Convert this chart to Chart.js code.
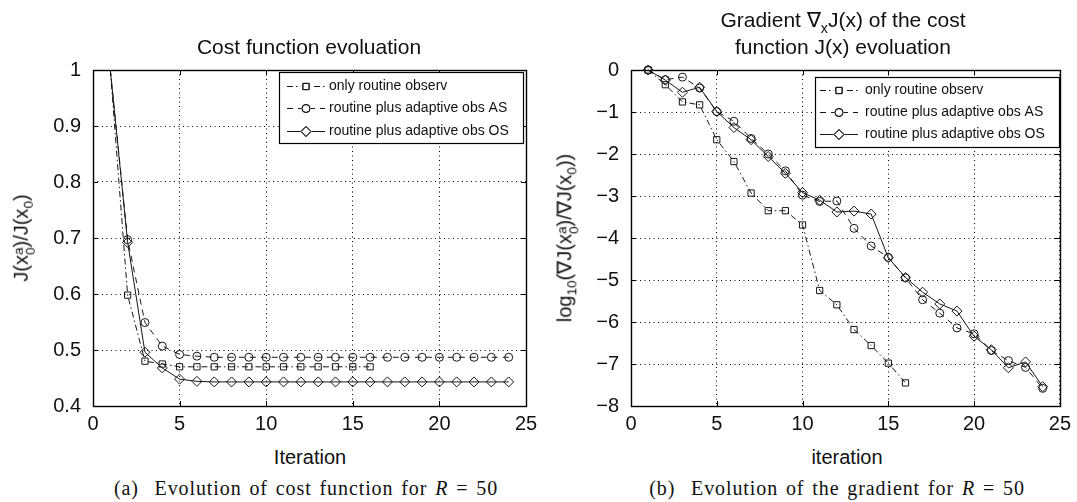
<!DOCTYPE html>
<html>
<head>
<meta charset="utf-8">
<title>Cost function and gradient evolution</title>
<script src="https://cdn.jsdelivr.net/npm/chart.js@4"></script>
<style>
  body { margin: 0; background: #fff; width: 1077px; height: 502px; position: relative; overflow: hidden;
         font-family: "Liberation Sans", Arial, sans-serif; color: #111; }
  canvas { position: absolute; top: 0; }
  .lbl { position: absolute; white-space: nowrap; transform: translate(-50%, -50%); }
  .ylbl { transform: translate(-50%, -50%) rotate(-90deg); }
  .ttl { font-size: 21px; }
  .ax { font-size: 20px; }
  .cap { font-family: "Liberation Serif", "DejaVu Serif", serif; font-size: 20px; letter-spacing: 0.9px; word-spacing: 2px; }
  .ss { display: inline-flex; flex-direction: column; font-size: 0.68em; line-height: 0.95; vertical-align: 0.4em; }
  sub { font-size: 0.68em; }
</style>
</head>
<body>
<canvas id="costChart" width="545" height="440" style="left:0"></canvas>
<canvas id="gradChart" width="532" height="440" style="left:545px"></canvas>

<div class="lbl ttl" style="left:309px; top:47px">Cost function evoluation</div>
<div class="lbl ttl" style="left:843px; top:22px">Gradient ∇<sub>x</sub>J(x) of the cost</div>
<div class="lbl ttl" style="left:843px; top:47px">function J(x) evoluation</div>

<div class="lbl ax ylbl" style="left:24px; top:238px">J(x<span class="ss"><span>a</span><span>0</span></span>)/J(x<sub>0</sub>)</div>
<div class="lbl ax ylbl" style="left:567px; top:238px">log<sub>10</sub>(∇J(x<span class="ss"><span>a</span><span>0</span></span>)/∇J(x<sub>0</sub>))</div>

<div class="lbl ax" style="left:310px; top:457px">Iteration</div>
<div class="lbl ax" style="left:847px; top:457px">iteration</div>

<div class="lbl cap" style="left:306px; top:488px">(a)&nbsp; Evolution of cost function for <i>R</i> = 50</div>
<div class="lbl cap" style="left:837px; top:488px">(b)&nbsp; Evolution of the gradient for <i>R</i> = 50</div>

<script>
// ---- data ----
const iterShort = [1, 2, 3, 4, 5, 6, 7, 8, 9, 10, 11, 12, 13, 14, 15, 16];
const iterLong = [1, 2, 3, 4, 5, 6, 7, 8, 9, 10, 11, 12, 13, 14, 15, 16, 17, 18, 19, 20, 21, 22, 23, 24];

const seriesNames = ["only routine observ", "routine plus adaptive obs AS", "routine plus adaptive obs OS"];

// (a) cost function ratio
const costOnly = [1, 0.598, 0.480, 0.475, 0.470, 0.470, 0.470, 0.470, 0.470, 0.470, 0.470, 0.470, 0.470, 0.470, 0.470, 0.470];
const costAS = [1, 0.697, 0.549, 0.507, 0.492, 0.489, 0.487, 0.487, 0.487, 0.487, 0.487, 0.487,
                0.487, 0.487, 0.487, 0.487, 0.487, 0.487, 0.487, 0.487, 0.487, 0.487, 0.487, 0.487];
const costOS = [1, 0.692, 0.496, 0.468, 0.448, 0.444, 0.443, 0.443, 0.443, 0.443, 0.443, 0.443,
                0.443, 0.443, 0.443, 0.443, 0.443, 0.443, 0.443, 0.443, 0.443, 0.443, 0.443, 0.443];

// (b) log10 gradient ratio
const gradOnly = [0, -0.35, -0.76, -0.83, -1.66, -2.18, -2.93, -3.35, -3.35, -3.69, -5.25, -5.59, -6.18, -6.56, -6.98, -7.45];
const gradAS = [0, -0.23, -0.17, -0.43, -0.99, -1.22, -1.63, -2.0, -2.40, -2.98, -3.13, -3.12,
                -3.77, -4.19, -4.46, -4.95, -5.47, -5.79, -6.14, -6.28, -6.68, -6.92, -7.08, -7.58];
const gradOS = [0, -0.24, -0.53, -0.41, -0.99, -1.37, -1.66, -2.06, -2.46, -2.92, -3.10, -3.38,
                -3.36, -3.43, -4.47, -4.94, -5.29, -5.57, -5.74, -6.34, -6.66, -7.09, -6.95, -7.54];

const xTicks = { min: 0, max: 25, step: 5 };
const costTicks = { min: 0.4, max: 1, step: 0.1 };
const gradTicks = { min: -8, max: 0, step: 1 };

// ---- styles ----
const ink = "#161616";
const styles = [
  { dash: [6, 3, 1.5, 3], point: "rect", r: 4.4 },
  { dash: [6, 5], point: "circle", r: 4 },
  { dash: [], point: "rectRot", r: 5 },
];

function toPoints(xs, ys) {
  return xs.map((x, i) => ({ x: x, y: ys[i] }));
}

function makeSets(lists, clip) {
  return lists.map((pts, i) => ({
    label: seriesNames[i],
    data: pts,
    borderColor: ink,
    borderWidth: 1,
    borderDash: styles[i].dash,
    backgroundColor: "rgba(0,0,0,0)",
    pointStyle: styles[i].point,
    pointRadius: (c) => (clip && c.raw && c.raw.y >= 1 ? 0 : styles[i].r),
    pointBorderColor: ink,
    pointBorderWidth: 1,
    pointBackgroundColor: "rgba(0,0,0,0)",
    tension: 0,
    clip: clip ? undefined : false,
  }));
}

// frame, inward tick marks, legend box
const framePlugin = {
  id: "frameBox",
  beforeDatasetsDraw(chart) {
    const { ctx, chartArea: a, scales } = chart;
    ctx.save();
    ctx.strokeStyle = "#000";
    ctx.lineWidth = 1;
    ctx.setLineDash([]);
    ctx.beginPath();
    scales.x.ticks.forEach((t) => {
      const px = Math.round(scales.x.getPixelForValue(t.value)) + 0.5;
      ctx.moveTo(px, a.bottom); ctx.lineTo(px, a.bottom - 5);
      ctx.moveTo(px, a.top); ctx.lineTo(px, a.top + 5);
    });
    scales.y.ticks.forEach((t) => {
      const py = Math.round(scales.y.getPixelForValue(t.value)) + 0.5;
      ctx.moveTo(a.left, py); ctx.lineTo(a.left + 5, py);
      ctx.moveTo(a.right, py); ctx.lineTo(a.right - 5, py);
    });
    ctx.stroke();
    ctx.lineWidth = 1.4;
    ctx.strokeRect(Math.round(a.left) + 0.5, Math.round(a.top) + 0.5, Math.round(a.width), Math.round(a.height));
    ctx.restore();
  },
  afterDatasetsDraw(chart, args, opts) {
    if (!opts.box) return;
    const ctx = chart.ctx;
    const [bx, by, bw, bh] = opts.box;
    ctx.save();
    ctx.fillStyle = "#fff";
    ctx.fillRect(bx, by, bw, bh);
    ctx.strokeStyle = "#000";
    ctx.lineWidth = 1.2;
    ctx.strokeRect(bx + 0.5, by + 0.5, bw, bh);
    ctx.font = "14px 'Liberation Sans', Arial, sans-serif";
    ctx.textBaseline = "middle";
    chart.data.datasets.forEach((ds, i) => {
      const y = opts.rows[i] + 0.5;
      const [x0, x1] = opts.sample;
      ctx.strokeStyle = ink;
      ctx.lineWidth = 1;
      ctx.setLineDash(styles[i].dash);
      ctx.beginPath();
      ctx.moveTo(x0, y); ctx.lineTo(x1, y);
      ctx.stroke();
      ctx.setLineDash([]);
      const mx = (x0 + x1) / 2;
      ctx.fillStyle = "#fff";
      ctx.beginPath(); ctx.arc(mx, y, styles[i].r + 1, 0, Math.PI * 2); ctx.fill();
      Chart.helpers.drawPoint(ctx, { pointStyle: styles[i].point, radius: styles[i].r, borderWidth: 1, rotation: 0 }, mx, y);
      ctx.stroke();
      ctx.fillStyle = "#111";
      ctx.fillText(ds.label, opts.textX, y);
    });
    ctx.restore();
  },
};

function axisOpts(t, afterFit, pad, fmt) {
  return {
    type: "linear",
    min: t.min,
    max: t.max,
    afterFit: afterFit,
    ticks: {
      stepSize: t.step,
      color: "#111",
      padding: pad,
      font: { family: "'Liberation Sans', Arial, sans-serif", size: 20 },
      callback: fmt || ((v) => String(Math.round(v * 100) / 100)),
      maxRotation: 0,
      autoSkip: false,
    },
    grid: { color: "#000", lineWidth: 1, drawTicks: false },
    border: { display: false, dash: [1, 3.5] },
  };
}

function makeChart(id, sets, yTicks, yWidth, padRight, legendCfg, yFmt) {
  return new Chart(document.getElementById(id), {
    type: "line",
    data: { datasets: sets },
    options: {
      responsive: false,
      animation: false,
      events: [],
      layout: { padding: { left: 0, top: 70, right: padRight, bottom: 0 } },
      plugins: { legend: { display: false }, tooltip: { enabled: false }, frameBox: legendCfg },
      scales: {
        x: axisOpts(xTicks, (s) => { s.height = 34; }, 6),
        y: axisOpts(yTicks, (s) => { s.width = yWidth; }, 12, yFmt),
      },
    },
    plugins: [framePlugin],
  });
}

makeChart(
  "costChart",
  makeSets([toPoints(iterShort, costOnly), toPoints(iterLong, costAS), toPoints(iterLong, costOS)], true),
  costTicks, 93, 19,
  { box: [279, 72, 244, 71], rows: [86, 108, 131], sample: [287, 325], textX: 329 }
);

makeChart(
  "gradChart",
  makeSets([toPoints(iterShort, gradOnly), toPoints(iterLong, gradAS), toPoints(iterLong, gradOS)], false),
  gradTicks, 86, 14,
  { box: [270, 77, 244, 70], rows: [90, 112, 134], sample: [275, 313], textX: 320 },
  (v) => String(v).replace("-", "\u2212")
);
</script>
</body>
</html>
